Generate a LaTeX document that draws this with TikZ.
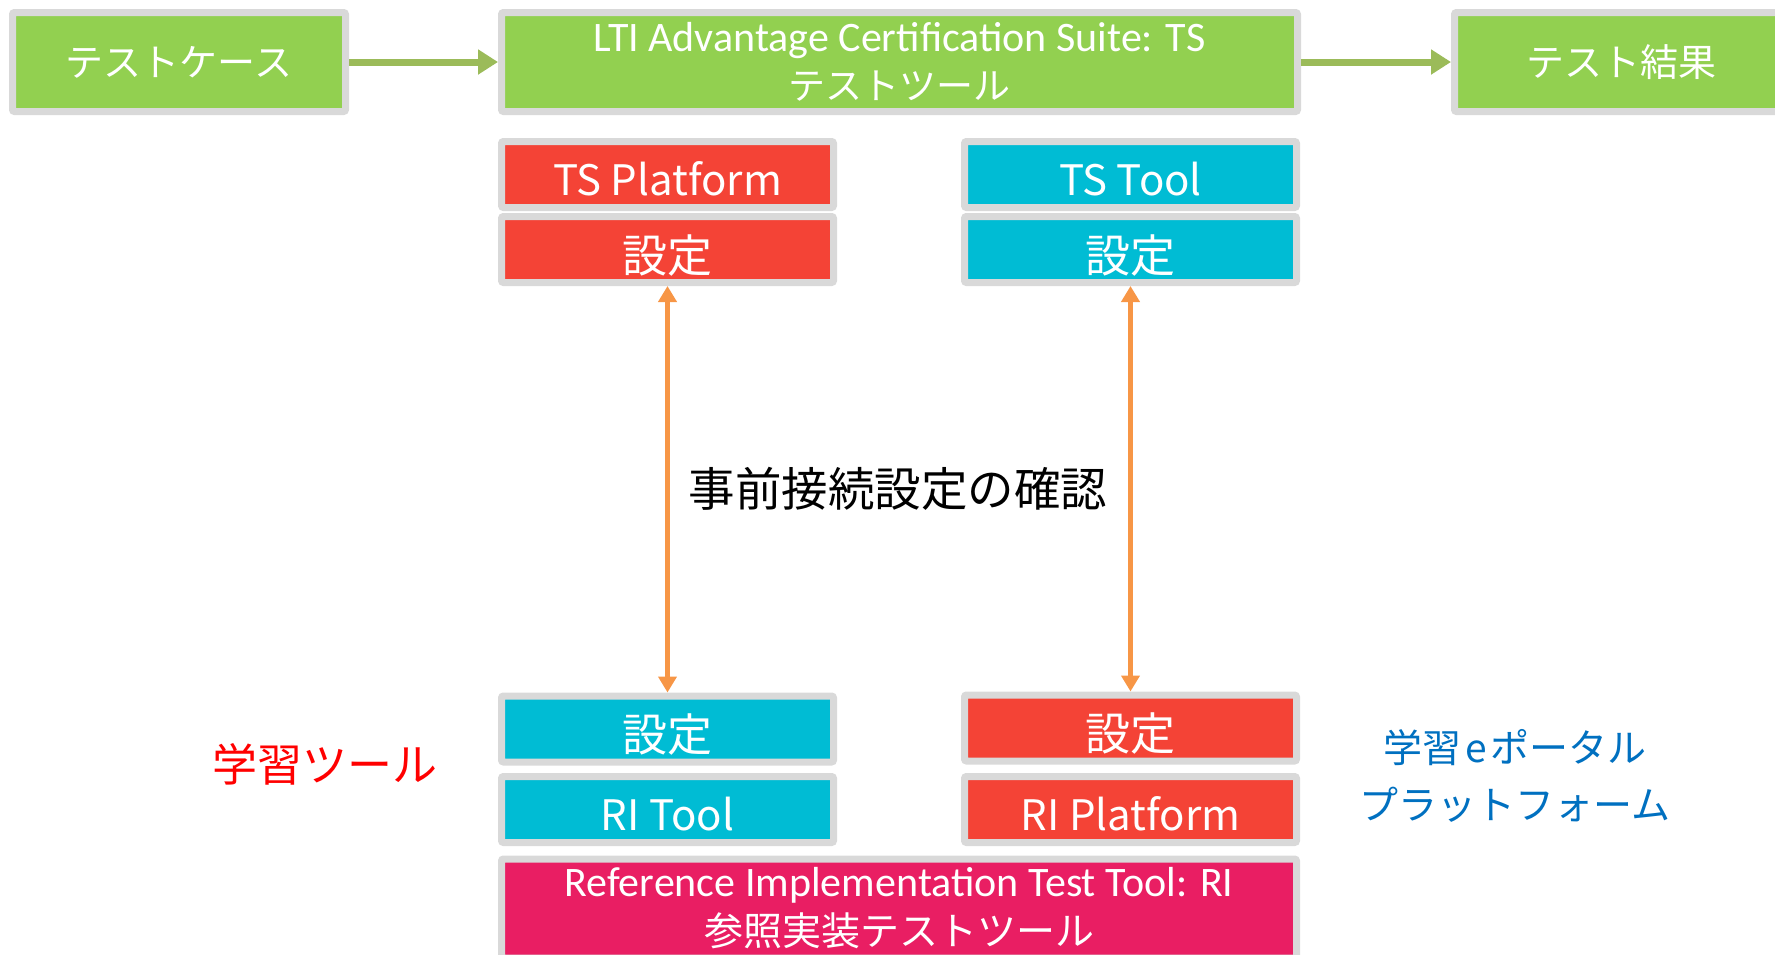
\documentclass[tikz,border=0pt]{standalone}
\usepackage{fontspec}
\setmainfont{Noto Sans CJK JP}
\newfontfamily\narrowfont{Carlito}
\usetikzlibrary{arrows.meta}

\definecolor{boxgreen}{HTML}{92D050}
\definecolor{boxgray}{HTML}{D9D9D9}
\definecolor{arrowgreen}{HTML}{9BBB59}
\definecolor{boxred}{HTML}{F44336}
\definecolor{boxcyan}{HTML}{00BCD4}
\definecolor{boxpink}{HTML}{E91E63}
\definecolor{linkorange}{HTML}{F79646}
\definecolor{textblue}{HTML}{0070C0}

\tikzset{
  box/.style={draw=boxgray,line width=7pt,rounded corners=2pt,text=white,
    align=center,inner sep=0pt},
  bigbox/.style={box,minimum height=99pt},
  smallbox/.style={box,minimum width=332pt,minimum height=66pt,
    text height=42pt,text depth=0pt,font=\fontsize{42}{48}\selectfont},
  setbox/.style={smallbox,text height=45pt,font=\fontsize{45}{50}\selectfont},
  flow/.style={arrowgreen,line width=7pt,-{Triangle[length=20pt,width=24pt]}},
  link/.style={linkorange,line width=5pt,
    {Triangle[length=16pt,width=18pt]}-{Triangle[length=16pt,width=18pt]}},
}

\begin{document}
\begin{tikzpicture}[x=1pt,y=-1pt]
\useasboundingbox (0,0) rectangle (1775,954);
\clip (0,0) rectangle (1775,954);

% top row
\node[bigbox,fill=boxgreen,minimum width=333pt,font=\fontsize{38}{46}\selectfont]
  (cases) at (179,62) {テストケース};
\node[bigbox,fill=boxgreen,minimum width=796pt,font=\fontsize{37}{48}\selectfont]
  (suite) at (899.5,62) {{\narrowfont\fontsize{42}{48}\selectfont LTI Advantage Certification Suite: TS}\\テストツール};
\node[bigbox,fill=boxgreen,minimum width=333pt,font=\fontsize{38}{46}\selectfont]
  (results) at (1621,62) {テスト結果};
\draw[flow] (cases) -- (suite);
\draw[flow] (suite) -- (results);

% test suite side
\node[smallbox,fill=boxred] (tsplatform) at (667.5,174.5) {TS Platform};
\node[setbox,fill=boxred] (tsplatformset) at (667.5,249.5) {設定};
\node[smallbox,fill=boxcyan] (tstool) at (1130.5,174.5) {TS Tool};
\node[setbox,fill=boxcyan] (tstoolset) at (1130.5,249.5) {設定};

% reference implementation side
\node[setbox,fill=boxcyan] (ritoolset) at (667.5,729) {設定};
\node[smallbox,fill=boxcyan] (ritool) at (667.5,809.5) {RI Tool};
\node[setbox,fill=boxred] (riplatformset) at (1130.5,728) {設定};
\node[smallbox,fill=boxred] (riplatform) at (1130.5,809.5) {RI Platform};
\node[bigbox,fill=boxpink,minimum width=795pt,font=\fontsize{39}{49}\selectfont]
  (refimpl) at (899,908.5) {{\narrowfont\fontsize{42}{49}\selectfont Reference Implementation Test Tool: RI}\\参照実装テストツール};

% connection check
\draw[link] (tsplatformset.south) -- (ritoolset.north);
\draw[link] (tstoolset.south) -- (riplatformset.north);
\node[font=\fontsize{46.5}{54}\selectfont] (check) at (898,489) {事前接続設定の確認};

% side labels
\node[text=red,font=\fontsize{45}{52}\selectfont] (learntool) at (325,764) {学習ツール};
\node[text=textblue,align=center,font=\fontsize{39}{57}\selectfont]
  (portal) at (1515,776) {学習\kern4pt e\kern4pt ポータル\\プラットフォーム};
\end{tikzpicture}
\end{document}
